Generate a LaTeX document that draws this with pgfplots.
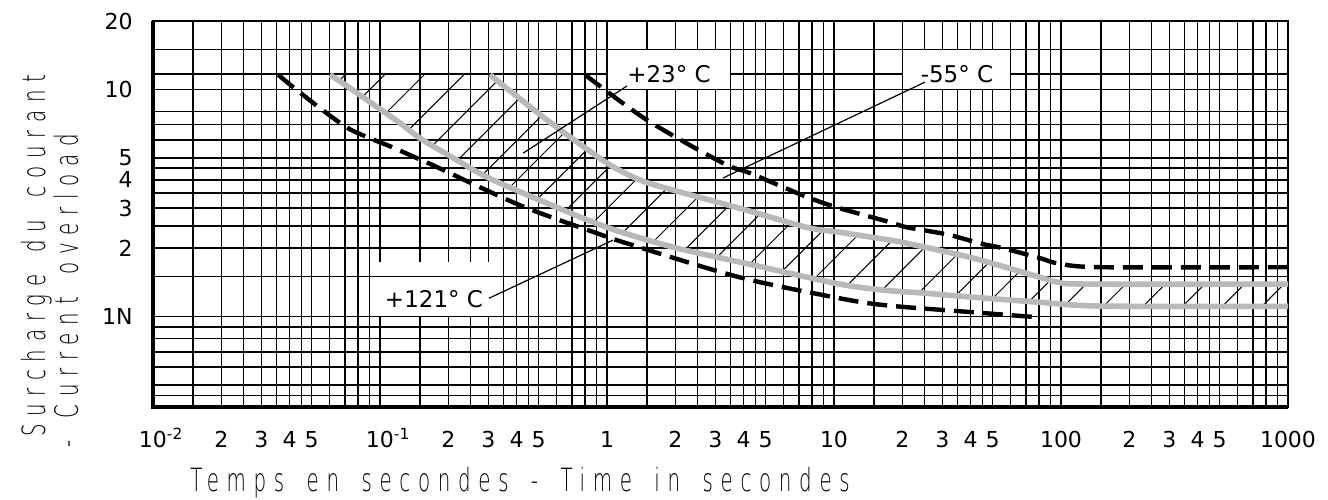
\documentclass[border=0pt]{standalone}
\usepackage{pgfplots}
\pgfplotsset{compat=1.18}
\usetikzlibrary{patterns.meta}
\usepackage{fontspec}
\setmainfont{DejaVu Sans}
\IfFontExistsTF{DejaVu Sans ExtraLight}{%
 \newfontfamily\titlefont[FakeStretch=0.62,LetterSpace=24,WordSpace=1.6]{DejaVu Sans ExtraLight}}{%
 \newfontfamily\titlefont[FakeStretch=0.62,LetterSpace=24,WordSpace=1.6]{DejaVu Sans}}
\definecolor{curvegray}{RGB}{185,185,185}

\begin{document}
\begin{tikzpicture}
\useasboundingbox (-76.5pt,-46pt) rectangle (587.5pt,203.5pt);
\begin{axis}[
  at={(0pt,0pt)}, anchor=south west,
  scale only axis, width=567.5pt, height=193pt,
  xmode=log, ymode=log,
  xmin=0.01, xmax=1000, ymin=0.4, ymax=20,
  xtick={0.01,0.015,0.02,0.025,0.03,0.035,0.04,0.045,0.05,0.06,0.07,0.08,0.09,
         0.1,0.15,0.2,0.25,0.3,0.35,0.4,0.45,0.5,0.6,0.7,0.8,0.9,
         1,1.5,2,2.5,3,3.5,4,4.5,5,6,7,8,9,
         10,15,20,25,30,35,40,45,50,60,70,80,90,
         100,150,200,250,300,350,400,450,500,600,700,800,900,1000},
  xticklabels={{10\rlap{\textsuperscript{-2}}},{},{2},{},{3},{},{4},{},{5},{},{},{},{},
               {10\rlap{\textsuperscript{-1}}},{},{2},{},{3},{},{4},{},{5},{},{},{},{},
               {1},{},{2},{},{3},{},{4},{},{5},{},{},{},{},
               {10},{},{2},{},{3},{},{4},{},{5},{},{},{},{},
               {100},{},{2},{},{3},{},{4},{},{5},{},{},{},{},{1000}},
  ytick={0.45,0.5,0.6,0.7,0.8,0.9,1,1.5,2,2.5,3,3.5,4,4.5,5,6,7,8,10,11.7,15,20},
  yticklabels={{},{},{},{},{},{},{1N},{},{2},{},{3},{},{4},{},{5},{},{},{},{10},{},{},{20}},
  grid=major,
  major grid style={black, line width=0.75pt},
  axis line style={black, line width=0.75pt},
  major tick length=0pt,
  tick style={draw=none},
  xticklabel style={font=\fontsize{11}{13}\selectfont, anchor=base, inner sep=0pt, yshift=-20pt},
  yticklabel style={font=\fontsize{11}{13}\selectfont, anchor=east, inner sep=0pt, xshift=-10pt},
]
% white label boxes
\fill[white] ([xshift=0.4pt,yshift=0.4pt]axis cs:1,10) rectangle ([xshift=-0.4pt,yshift=-0.4pt]axis cs:3.5,15);
\fill[white] ([xshift=0.4pt,yshift=0.4pt]axis cs:20,10) rectangle ([xshift=-0.4pt,yshift=-0.4pt]axis cs:60,15);
\fill[white] ([xshift=0.4pt,yshift=0.4pt]axis cs:0.09,1) rectangle ([xshift=-0.4pt]axis cs:0.35,1.735);
\draw[black, line width=0.75pt] (axis cs:0.09,1.5) -- (axis cs:0.35,1.5);

% hatched band between the grey curves
\addplot[draw=none, pattern={Lines[angle=45,distance=14pt,line width=0.5pt]}, pattern color=black, forget plot]
 coordinates {(0.0602,11.6) (0.076,9.93) (0.097,8.36) (0.1225,7.11) (0.150,6.1) (0.2097,5.0) (0.296,4.11)
  (0.507,3.25) (1.0,2.47) (1.96,2.02) (3.83,1.74) (10.6,1.39) (17.7,1.30) (24.7,1.27) (40.9,1.217)
  (80.7,1.156) (121,1.12) (200,1.11) (1000,1.11)
  (1000,1.39) (130,1.39) (96,1.42) (80.7,1.49) (40.9,1.81) (21,2.10) (17.7,2.17) (10.6,2.35) (7.6,2.47)
  (3.83,3.0) (1.96,3.60) (1.4,3.99) (1.0,4.74) (0.60,6.82) (0.491,7.95) (0.386,9.6) (0.305,11.6)};

% grey curves
\addplot[curvegray, line width=2.8pt, smooth] coordinates {
 (0.0602,11.6) (0.076,9.93) (0.097,8.36) (0.1225,7.11) (0.150,6.1) (0.2097,5.0) (0.296,4.11)
 (0.507,3.25) (1.0,2.47) (1.96,2.02) (3.83,1.74) (10.6,1.39) (17.7,1.30) (24.7,1.27) (40.9,1.217)
 (80.7,1.156) (121,1.12) (200,1.11) (1000,1.11)};
\addplot[curvegray, line width=2.8pt, smooth] coordinates {
 (0.305,11.6) (0.386,9.6) (0.491,7.95) (0.60,6.82) (1.0,4.74) (1.4,3.99) (1.96,3.60) (3.83,3.0)
 (7.6,2.47) (10.6,2.35) (17.7,2.17) (21,2.10) (40.9,1.81) (80.7,1.49) (96,1.42) (130,1.39) (1000,1.39)};

% dashed curves
\addplot[black, line width=2.2pt, dash pattern=on 10pt off 4.5pt, smooth] coordinates {
 (0.80,11.6) (1.5,7.33) (3.24,4.74) (4.27,4.28) (7.6,3.36) (10.6,3.0) (17.7,2.60) (21,2.47)
 (31.5,2.30) (44,2.10) (55.5,2.0) (80.7,1.81) (96,1.72) (148,1.65) (1000,1.65)};
\addplot[black, line width=2.2pt, dash pattern=on 10pt off 4.5pt, smooth] coordinates {
 (0.0356,11.6) (0.0414,10.24) (0.0544,8.27) (0.0715,6.79) (0.0877,6.17) (0.113,5.57) (0.1455,4.98)
 (0.171,4.64) (0.414,3.09) (0.90,2.33) (1.225,2.10) (3.83,1.49) (10.6,1.204) (17.1,1.12)
 (40.9,1.045) (79.3,0.993)};

% leader lines
\draw[black, line width=0.6pt] (axis cs:1.225,10.35) -- (axis cs:0.427,5.24);
\draw[black, line width=0.6pt] (axis cs:25.2,10.77) -- (axis cs:3.24,4.07);
\draw[black, line width=0.6pt] (axis cs:0.302,1.204) -- (axis cs:1.063,2.17);
\end{axis}

% heavy left and bottom axis lines
\draw[black, line width=2.2pt] (0pt,193pt) -- (0pt,0pt) -- (567.5pt,0pt);

% curve labels
\node[font=\fontsize{11.5}{13}\selectfont, anchor=base, inner sep=0pt] at (258pt,162pt) {+23° C};
\node[font=\fontsize{11.5}{13}\selectfont, anchor=base, inner sep=0pt] at (402pt,162.5pt) {-55° C};
\node[font=\fontsize{11.5}{13}\selectfont, anchor=base, inner sep=0pt] at (140.5pt,50pt) {+121° C};

% axis titles
\node[font=\titlefont\fontsize{16}{18}\selectfont, anchor=base west, inner sep=0pt] at (18.5pt,-42pt)
  {Temps en secondes - Time in secondes};
\node[font=\titlefont\fontsize{16}{18}\selectfont, rotate=90, anchor=base west, inner sep=0pt] at (-54pt,-15pt)
  {Surcharge du courant};
\node[font=\titlefont\fontsize{16}{18}\selectfont, rotate=90, anchor=base west, inner sep=0pt] at (-37.5pt,-20.5pt)
  {- Current overload};
\end{tikzpicture}
\end{document}
